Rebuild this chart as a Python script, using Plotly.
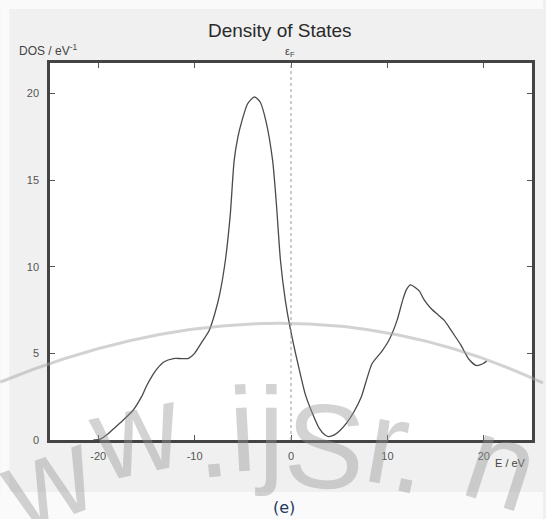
import plotly.graph_objects as go

# ---- data ----
energy = [-20.5, -19.8, -19.0, -18.5, -17.5, -16.4, -15.5, -15.0, -14.4, -13.9, -13.2,
          -12.2, -11.4, -10.7, -10.0, -9.3, -8.5, -7.9, -7.4, -6.8, -6.3, -5.9, -5.5,
          -5.1, -4.5, -3.8, -3.2, -2.6, -1.9, -1.5, -1.1, -0.6, -0.1, 0.8, 1.5, 2.25,
          2.9, 3.5, 3.9, 4.5, 5.0, 5.8, 6.5, 7.3, 8.4, 9.4, 10.2, 11.0, 11.6, 12.0,
          12.4, 13.3, 13.8, 14.5, 15.3, 15.9, 16.4, 17.0, 17.6, 18.4, 19.2, 19.9, 20.3]
dos = [0.0, 0.05, 0.35, 0.6, 1.1, 1.7, 2.5, 3.1, 3.7, 4.1, 4.5,
       4.7, 4.7, 4.7, 5.0, 5.6, 6.3, 7.3, 8.4, 10.4, 13.0, 16.1, 17.5,
       18.4, 19.4, 19.8, 19.5, 18.4, 16.1, 13.5, 10.4, 8.1, 6.5, 4.2, 2.6, 1.5,
       0.7, 0.3, 0.2, 0.3, 0.5, 1.0, 1.6, 2.5, 4.4, 5.1, 5.8, 6.9, 8.1, 8.7,
       8.95, 8.6, 8.1, 7.6, 7.2, 6.9, 6.5, 6.0, 5.5, 4.7, 4.3, 4.4, 4.55]

x_ticks = [-20, -10, 0, 10, 20]
y_ticks = [0, 5, 10, 15, 20]

title_text = "Density of States"
y_label = "DOS / eV<sup>-1</sup>"
x_label = "E / eV"
fermi_label = "ε<sub>F</sub>"
caption = "(e)"
watermark = ["w", "w", ".", "i", "j", "S", "r", ".", "n"]

# ---- layout geometry (pixels) ----
W, H = 546, 519
L, R, T, B = 50, 11, 63, 79
PW, PH = W - L - R, H - T - B


def px(x):
    return (x - L) / PW


def py(y):
    return (H - B - y) / PH


FONT = "Liberation Sans, Arial, sans-serif"

fig = go.Figure()
fig.add_trace(go.Scatter(
    x=energy, y=dos, mode="lines",
    line=dict(color="#4a4a4a", width=1.3, shape="spline", smoothing=0.6),
    hoverinfo="skip", showlegend=False,
))

light = "#fafafa"
shapes = [
    # lighter border bands of the image
    dict(type="rect", xref="paper", yref="paper", x0=px(0), x1=px(W), y0=py(H), y1=py(492),
         fillcolor=light, line=dict(width=0), layer="below"),
    dict(type="rect", xref="paper", yref="paper", x0=px(0), x1=px(W), y0=py(9), y1=py(0),
         fillcolor=light, line=dict(width=0), layer="below"),
    dict(type="rect", xref="paper", yref="paper", x0=px(0), x1=px(9), y0=py(H), y1=py(0),
         fillcolor=light, line=dict(width=0), layer="below"),
    # Fermi level
    dict(type="line", xref="x", yref="paper", x0=0, x1=0, y0=0, y1=1,
         line=dict(color="#9a9a9a", width=1, dash="dot"), layer="above"),
    # watermark arc
    dict(type="path", xref="paper", yref="paper",
         path=f"M {px(0)},{py(382)} Q {px(291)},{py(264)} {px(W)},{py(383)}",
         line=dict(color="rgba(165,165,165,0.5)", width=3), layer="above"),
]

annotations = [
    dict(text=title_text, xref="paper", yref="paper", x=px(281), y=py(30),
         xanchor="center", yanchor="middle", showarrow=False,
         font=dict(family=FONT, size=19, color="#2a2a2a")),
    dict(text=y_label, xref="paper", yref="paper", x=px(17), y=py(50),
         xanchor="left", yanchor="middle", showarrow=False,
         font=dict(family=FONT, size=12, color="#444")),
    dict(text=fermi_label, xref="paper", yref="paper", x=px(291), y=py(52),
         xanchor="center", yanchor="middle", showarrow=False,
         font=dict(family=FONT, size=11, color="#444")),
    dict(text=x_label, xref="paper", yref="paper", x=px(513), y=py(463),
         xanchor="center", yanchor="middle", showarrow=False,
         font=dict(family=FONT, size=11, color="#444")),
    dict(text=caption, xref="paper", yref="paper", x=px(285), y=py(507),
         xanchor="center", yanchor="middle", showarrow=False,
         font=dict(family="DejaVu Sans, sans-serif", size=16, color="#1f3a60")),
]

# watermark glyph placement (pixel centres and rotation)
wm_pos = [(47, 479, -20), (136, 432, -12), (211, 435, -6),
          (244, 429, -3), (271, 429, 0), (327, 446, 4), (390, 442, 10),
          (415, 451, 12), (505, 463, 18)]
for ch, (cx, cy, ang) in zip(watermark, wm_pos):
    annotations.append(dict(
        text=ch, xref="paper", yref="paper", x=px(cx), y=py(cy),
        xanchor="center", yanchor="middle", showarrow=False, textangle=ang,
        font=dict(family="Liberation Sans, Arial, sans-serif", size=120,
                  color="rgba(150,150,150,0.42)"),
    ))

axis_common = dict(
    showline=True, linecolor="#444", linewidth=2.5, mirror="ticks",
    ticks="inside", ticklen=5, tickwidth=1, tickcolor="#555",
    showgrid=False, zeroline=False,
    tickfont=dict(family=FONT, size=11, color="#555"),
)

fig.update_layout(
    width=W, height=H,
    margin=dict(l=L, r=R, t=T, b=B, pad=0),
    paper_bgcolor="#f0f0f0", plot_bgcolor="#ffffff",
    shapes=shapes, annotations=annotations,
    xaxis=dict(range=[-25, 25], tickvals=x_ticks, ticktext=[str(v) for v in x_ticks],
               ticklabelstandoff=4, **axis_common),
    yaxis=dict(range=[0, 21.75], tickvals=y_ticks, ticktext=[str(v) for v in y_ticks],
               ticklabelstandoff=6, **axis_common),
    showlegend=False,
)

fig.write_html(
    "out.html",
    config={"displayModeBar": False},
    post_script="document.body.style.margin='0';document.body.style.overflow='hidden';",
)
